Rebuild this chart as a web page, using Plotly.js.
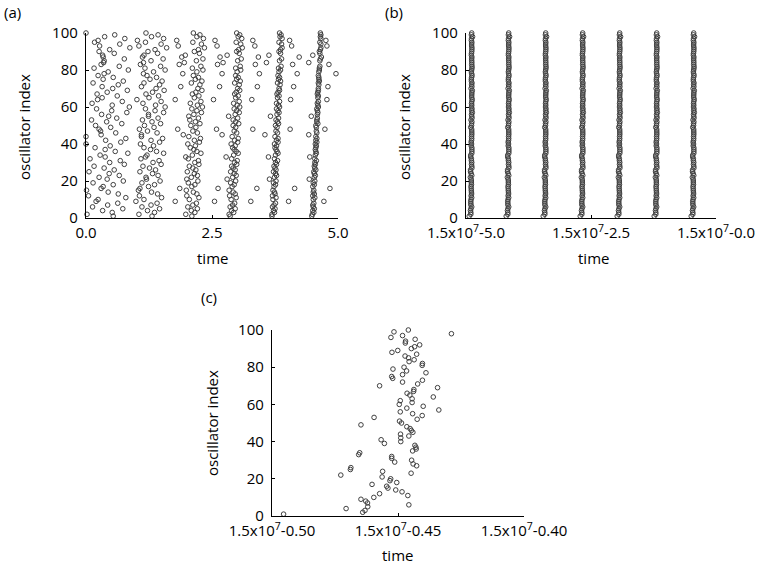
<!DOCTYPE html>
<html>
<head>
<meta charset="utf-8">
<script src="https://cdn.plot.ly/plotly-3.0.1.min.js"></script>
<style>html,body{margin:0;padding:0;background:#fff;}#chart{width:763px;height:565px;}</style>
</head>
<body>
<div id="chart"></div>
<script>
// ---------- DATA ----------
// oscillator index (y) for panel (a)
const oscIndex = [1,2,3,4,5,6,7,8,9,10,11,12,13,14,15,16,17,18,19,20,21,22,23,24,25,26,27,28,29,30,31,32,33,34,35,36,37,38,39,40,41,42,43,44,45,46,47,48,49,50,51,52,53,54,55,56,57,58,59,60,61,62,63,64,65,66,67,68,69,70,71,72,73,74,75,76,77,78,79,80,81,82,83,84,85,86,87,88,89,90,91,92,93,94,95,96,97,98,99,100];

// panel (a): firing times of each oscillator, one array per firing round
const lateIndex0 = [9,16,48,64,71,78,83,87,93,96];
const lateFire0  = [0.20,0.30,0.26,0.23,0.32,0.36,0.30,0.34,0.27,0.24];
const fireRound1 = [0.54,0.02,0.52,0.33,0.73,0.13,0.43,0.63,0.99,0.24, 0.79,0.05,0.64,0.44,0.01,1.07,0.34,0.54,0.14,0.74, 0.42,0.26,0.66,0.46,0.06,0.56,0.36,0.16,0.76,0.47, 0.68,0.08,0.38,0.28,0.83,0.58,0.38,0.18,0.48,0.00, 0.69,0.39,0.79,0.00,0.30,0.59,0.29,1.06,0.49,0.19, 0.71,0.41,0.11,0.61,0.45,0.31,0.81,0.51,0.21,0.86, 0.52,0.12,0.72,1.01,0.32,0.62,0.22,0.42,0.82,0.53, 1.10,0.64,0.14,0.74,0.34,0.54,0.24,1.14,0.44,0.84, 0.16,0.66,1.08,0.35,0.36,0.76,1.12,0.33,0.56,0.26, 0.47,0.87,1.05,0.67,0.17,1.02,0.77,0.37,0.57,0.00];
const fireRound2 = [1.31,1.05,1.36,1.22,1.46,1.11,1.29,1.41,1.77,1.15, 1.50,1.06,1.42,1.30,1.04,1.86,1.24,1.36,1.11,1.47, 1.20,1.19,1.43,1.32,1.07,1.38,1.26,1.13,1.49,1.33, 1.45,1.09,1.18,1.21,1.54,1.40,1.28,1.15,1.34,1.08, 1.46,1.29,1.52,1.10,1.10,1.41,1.22,1.82,1.35,1.16, 1.48,1.31,1.12,1.43,1.24,1.24,1.54,1.37,1.18,1.57, 1.38,1.13,1.49,1.77,1.25,1.44,1.19,1.32,1.55,1.39, 1.88,1.46,1.15,1.51,1.27,1.40,1.21,1.92,1.34,1.57, 1.17,1.48,1.85,1.14,1.29,1.53,1.90,1.15,1.42,1.23, 1.37,1.60,1.83,1.49,1.18,1.80,1.54,1.30,1.43,1.19];
const fireRound3 = [2.10,1.98,2.16,2.09,2.21,2.02,2.12,2.19,2.55,2.05, 2.24,2.00,2.20,2.13,1.99,2.62,2.10,2.16,2.03,2.22, 2.00,2.09,2.21,2.15,2.01,2.18,2.12,2.05,2.24,2.16, 2.23,2.03,1.98,2.11,2.28,2.20,2.14,2.07,2.17,2.02, 2.25,2.15,2.27,2.04,1.93,2.21,2.12,2.59,2.18,2.08, 2.26,2.17,2.06,2.23,2.04,2.14,2.29,2.20,2.10,2.31, 2.21,2.07,2.28,2.53,2.15,2.24,2.11,2.18,2.30,2.22, 2.65,2.26,2.09,2.30,2.17,2.23,2.13,2.70,2.20,2.32, 2.11,2.28,2.61,1.95,2.19,2.32,2.66,1.97,2.25,2.15, 2.23,2.35,2.60,2.29,2.12,2.56,2.33,2.20,2.26,2.13];
const fireRound4 = [2.86,2.84,2.93,2.89,2.96,2.86,2.91,2.95,3.27,2.88, 2.98,2.85,2.96,2.92,2.84,3.39,2.90,2.94,2.87,2.97, 2.80,2.91,2.98,2.94,2.87,2.96,2.92,2.89,2.99,2.95, 3.00,2.89,2.78,2.93,3.02,2.98,2.94,2.91,2.96,2.88, 3.01,2.95,3.02,2.90,2.70,2.99,2.94,3.31,2.97,2.92, 3.03,2.97,2.92,3.01,2.83,2.96,3.04,2.99,2.94,3.05, 3.00,2.93,3.04,3.29,2.97,3.02,2.95,2.98,3.05,3.01, 3.40,3.04,2.95,3.06,2.99,3.02,2.97,3.44,3.00,3.07, 2.97,3.06,3.36,2.72,3.01,3.08,3.42,2.80,3.04,2.99, 3.03,3.10,3.35,3.07,2.98,3.31,3.09,3.02,3.05,2.99];
const fireRound5 = [3.69,3.69,3.74,3.72,3.75,3.70,3.73,3.76,4.02,3.71, 3.77,3.70,3.75,3.74,3.71,4.14,3.73,3.76,3.72,3.77, 3.64,3.74,3.78,3.76,3.72,3.77,3.75,3.73,3.78,3.76, 3.80,3.74,3.62,3.76,3.81,3.79,3.77,3.75,3.78,3.74, 3.81,3.78,3.81,3.75,3.55,3.80,3.77,4.05,3.79,3.76, 3.82,3.80,3.77,3.82,3.66,3.79,3.83,3.81,3.78,3.84, 3.82,3.78,3.84,4.06,3.80,3.83,3.79,3.81,3.84,3.83, 4.12,3.85,3.80,3.86,3.82,3.84,3.81,4.19,3.83,3.86, 3.82,3.87,4.10,3.58,3.84,3.88,4.23,3.63,3.86,3.83, 3.86,3.89,4.08,3.88,3.83,4.04,3.89,3.85,3.87,3.84];
const fireRound6 = [4.48,4.49,4.52,4.50,4.53,4.51,4.50,4.52,4.72,4.51, 4.54,4.50,4.53,4.51,4.52,4.84,4.50,4.53,4.51,4.54, 4.43,4.53,4.55,4.53,4.52,4.56,4.54,4.53,4.55,4.54, 4.57,4.54,4.44,4.55,4.57,4.56,4.55,4.56,4.57,4.55, 4.58,4.56,4.58,4.56,4.42,4.58,4.57,4.74,4.57,4.56, 4.60,4.58,4.58,4.59,4.47,4.59,4.60,4.59,4.58,4.61, 4.60,4.59,4.61,4.78,4.60,4.61,4.59,4.60,4.61,4.61, 4.80,4.62,4.61,4.63,4.62,4.62,4.61,4.96,4.62,4.63, 4.63,4.64,4.82,4.42,4.64,4.65,4.67,4.50,4.64,4.63, 4.65,4.66,4.78,4.66,4.64,4.76,4.66,4.65,4.66,4.65];

// panel (c): one firing event, time offset after 1.5x10^7 and oscillator index
const burstTime = [-0.4954,-0.4727,-0.4706,-0.4689,-0.4687,-0.4656,-0.4652,-0.4647,-0.4647,-0.4640,-0.4631,-0.4628,-0.4621,-0.4620,-0.4603,-0.4596,-0.4595,-0.4573,-0.4573,-0.4567,-0.4563,-0.4561,-0.4554,-0.4545,-0.4540,-0.4532,-0.4529,-0.4528,-0.4525,-0.4524,-0.4525,-0.4525,-0.4521,-0.4520,-0.4516,-0.4513,-0.4509,-0.4505,-0.4501,-0.4495,-0.4494,-0.4491,-0.4491,-0.4490,-0.4489,-0.4489,-0.4486,-0.4484,-0.4482,-0.4482,-0.4482,-0.4476,-0.4472,-0.4471,-0.4470,-0.4465,-0.4465,-0.4466,-0.4464,-0.4461,-0.4459,-0.4458,-0.4457,-0.4456,-0.4457,-0.4453,-0.4452,-0.4448,-0.4447,-0.4447,-0.4446,-0.4444,-0.4444,-0.4442,-0.4442,-0.4441,-0.4440,-0.4438,-0.4437,-0.4436,-0.4434,-0.4432,-0.4433,-0.4429,-0.4428,-0.4426,-0.4426,-0.4424,-0.4422,-0.4414,-0.4404,-0.4403,-0.4404,-0.4403,-0.4400,-0.4389,-0.4360,-0.4343,-0.4338,-0.4288];
const burstIndex = [1,22,4,25,26,33,34,49,9,2,3,8,7,5,17,10,53,70,12,41,21,24,39,16,15,19,20,96,75,88,32,31,74,79,99,29,14,18,89,60,51,62,56,44,42,40,50,13,97,76,72,80,86,93,94,58,48,78,66,11,100,85,6,83,43,65,47,23,46,90,30,63,61,35,55,45,28,67,68,84,91,95,38,37,36,27,87,52,71,92,81,82,54,73,59,77,64,69,57,98];

// panel (b): the same synchronized burst repeats once per period
const syncBurstShift = [-4.44,-3.70,-2.96,-2.22,-1.48,-0.74,0];

// tick labels
const yTicks = [0,20,40,60,80,100];
const aTickVals = [0,2.5,5];
const aTickText = ['0.0','2.5','5.0'];
const bTickVals = [-5,-2.5,0];
const bTickText = ['1.5x10<sup>7</sup>-5.0','1.5x10<sup>7</sup>-2.5','1.5x10<sup>7</sup>-0.0'];
const cTickVals = [-0.5,-0.45,-0.4];
const cTickText = ['1.5x10<sup>7</sup>-0.50','1.5x10<sup>7</sup>-0.45','1.5x10<sup>7</sup>-0.40'];

// ---------- BUILD ----------
const W = 763, H = 565;
const px = v => v / W;
const py = v => 1 - v / H;
const FONT = {family: 'Open Sans, Noto Sans, sans-serif', size: 15, color: '#000'};
const marker = {symbol: 'circle-open', size: 4.6, color: '#404040', line: {width: 1, color: '#404040'}};

const traces = [];
// panel (a)
const aX = [], aY = [];
lateFire0.forEach((t, i) => { aX.push(t); aY.push(lateIndex0[i]); });
[fireRound1, fireRound2, fireRound3, fireRound4, fireRound5, fireRound6].forEach(r => {
  r.forEach((t, i) => { aX.push(t); aY.push(oscIndex[i]); });
});
traces.push({x: aX, y: aY, xaxis: 'x', yaxis: 'y', type: 'scatter', mode: 'markers', marker, cliponaxis: false, hoverinfo: 'skip'});
// panel (b)
const bX = [], bY = [];
syncBurstShift.forEach(s => burstTime.forEach((t, i) => { bX.push(t + s); bY.push(burstIndex[i]); }));
traces.push({x: bX, y: bY, xaxis: 'x2', yaxis: 'y2', type: 'scatter', mode: 'markers', marker, cliponaxis: false, hoverinfo: 'skip'});
// panel (c)
traces.push({x: burstTime, y: burstIndex, xaxis: 'x3', yaxis: 'y3', type: 'scatter', mode: 'markers', marker, cliponaxis: false, hoverinfo: 'skip'});

const axBase = {
  showline: true, linecolor: '#000', linewidth: 1.2, showgrid: false, zeroline: false,
  ticks: 'inside', ticklen: 3, tickcolor: '#000', tickwidth: 1, tickfont: FONT, fixedrange: true
};
const yAx = (dom, anchor) => Object.assign({}, axBase, {domain: dom, anchor, range: [0, 100], tickvals: yTicks, ticktext: yTicks.map(String), ticklabelstandoff: 4});
const xAx = (dom, anchor, range, tv, tt) => Object.assign({}, axBase, {domain: dom, anchor, range, tickvals: tv, ticktext: tt, ticklabelstandoff: 1});

const ann = (text, x, y, extra) => Object.assign({text, x: px(x), y: py(y), xref: 'paper', yref: 'paper', xanchor: 'center', yanchor: 'middle', showarrow: false, font: FONT}, extra || {});

const layout = {
  width: W, height: H, margin: {l: 0, r: 0, t: 0, b: 0},
  paper_bgcolor: '#fff', plot_bgcolor: '#fff', showlegend: false,
  font: FONT,
  xaxis: xAx([px(86), px(338)], 'y', [0, 5], aTickVals, aTickText),
  yaxis: yAx([py(218), py(33)], 'x'),
  xaxis2: xAx([px(466), px(716)], 'y2', [-5, 0], bTickVals, bTickText),
  yaxis2: yAx([py(218), py(33)], 'x2'),
  xaxis3: xAx([px(272), px(524)], 'y3', [-0.5, -0.4], cTickVals, cTickText),
  yaxis3: yAx([py(516), py(330)], 'x3'),
  annotations: [
    ann('(a)', 2, 12, {xanchor: 'left'}),
    ann('(b)', 383, 12, {xanchor: 'left'}),
    ann('(c)', 199, 297, {xanchor: 'left'}),
    ann('oscillator index', 24, 127, {textangle: -90}),
    ann('oscillator index', 404, 127, {textangle: -90}),
    ann('oscillator index', 212, 423, {textangle: -90}),
    ann('time', 213, 258),
    ann('time', 593, 258),
    ann('time', 398, 555)
  ]
};

Plotly.newPlot('chart', traces, layout, {staticPlot: true, displayModeBar: false});
</script>
</body>
</html>
